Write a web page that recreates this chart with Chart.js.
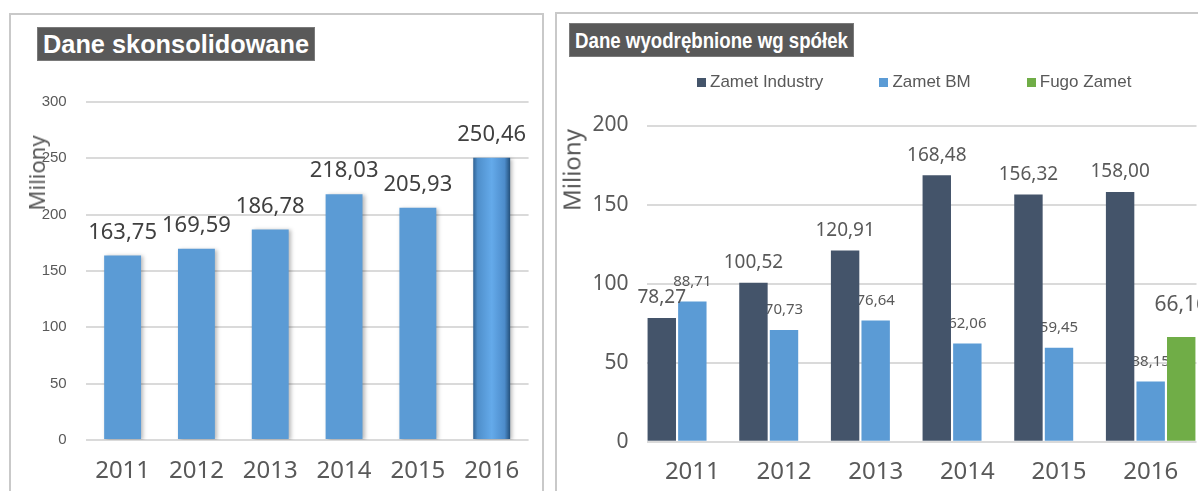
<!DOCTYPE html>
<html><head><meta charset="utf-8">
<script src="https://cdn.jsdelivr.net/npm/chart.js@4/dist/chart.umd.min.js"></script>
<style>
html,body{margin:0;padding:0;background:#fff;width:1198px;height:491px;overflow:hidden;}
body{position:relative;}
.panel{position:absolute;border:2px solid #c9c9c9;border-bottom:none;box-sizing:border-box;background:#fff;}
#p1{left:9px;top:13px;width:535px;height:490px;}
#p2{left:555px;top:12px;width:720px;height:490px;}
canvas{position:absolute;top:0;}
#c1{left:0;}
#c2{left:550px;}
.ttl{position:absolute;background:#595959;color:#fff;font-family:"Liberation Sans",Arial,sans-serif;font-weight:bold;white-space:nowrap;overflow:hidden;box-sizing:border-box;border:1px solid #7a7a7a;}
.ttl span{display:inline-block;transform-origin:0 50%;position:absolute;left:5px;top:0;}
#t1{left:37px;top:27px;width:278px;height:34px;font-size:25px;line-height:33px;}
#t2{left:569px;top:23px;width:285px;height:34px;font-size:22px;line-height:33px;}
.ytitle{position:absolute;font-family:"Noto Sans",sans-serif;color:#595959;transform:translate(-50%,-50%) rotate(-90deg);white-space:nowrap;}
#y1{left:36px;top:173px;font-size:22px;}
#y2{left:571px;top:170px;font-size:24px;}
#legend{position:absolute;left:697px;top:72px;display:flex;gap:56px;font-family:"Liberation Sans",Arial,sans-serif;font-size:17px;color:#595959;white-space:nowrap;}
#legend .it{display:flex;align-items:center;}
#legend .sw{width:9px;height:9px;margin-right:4px;}
</style></head>
<body>
<div class="panel" id="p1"></div>
<div class="panel" id="p2"></div>
<canvas id="c1" width="550" height="491" style="width:550px;height:491px"></canvas>
<canvas id="c2" width="700" height="491" style="width:700px;height:491px"></canvas>
<div class="ttl" id="t1"><span data-w="266">Dane skonsolidowane</span></div>
<div class="ttl" id="t2"><span data-w="273">Dane wyodrębnione wg spółek</span></div>
<div class="ytitle" id="y1">Miliony</div>
<div class="ytitle" id="y2">Miliony</div>
<div id="legend"></div>
<script>
// ---- data ----
const years = ['2011', '2012', '2013', '2014', '2015', '2016'];
const consolidated = [163.75, 169.59, 186.78, 218.03, 205.93, 250.46];
const seriesNames = ['Zamet Industry', 'Zamet BM', 'Fugo Zamet'];
const zametIndustry = [78.27, 100.52, 120.91, 168.48, 156.32, 158.00];
const zametBM = [88.71, 70.73, 76.64, 62.06, 59.45, 38.15];
const fugoZamet = [null, null, null, null, null, 66.16];
const leftTicks = { min: 0, max: 300, step: 50 };
const rightTicks = { min: 0, max: 200, step: 50 };

const colors = ['#44546a', '#5b9bd5', '#70ad47'];
const fmt = v => v.toFixed(2).replace('.', ',');
const GRID = '#dadada';

// fit title widths
document.querySelectorAll('.ttl span').forEach(s => {
  const w = s.getBoundingClientRect().width;
  s.style.transform = 'scaleX(' + (parseFloat(s.dataset.w) / w) + ')';
});

// legend from series
const lg = document.getElementById('legend');
seriesNames.forEach((n, i) => {
  const it = document.createElement('div'); it.className = 'it';
  const sw = document.createElement('div'); sw.className = 'sw'; sw.style.background = colors[i];
  const tx = document.createElement('span'); tx.textContent = n;
  it.appendChild(sw); it.appendChild(tx); lg.appendChild(it);
});

Chart.defaults.animation = false;

// ---- left chart ----
const labelPlugin1 = {
  id: 'lbl1',
  afterDatasetsDraw(chart) {
    const ctx = chart.ctx;
    const meta = chart.getDatasetMeta(0);
    ctx.save();
    ctx.font = '22px "Noto Sans", sans-serif';
    ctx.fillStyle = '#404040';
    ctx.textAlign = 'center';
    ctx.textBaseline = 'middle';
    meta.data.forEach((b, i) => {
      ctx.fillText(fmt(consolidated[i]), b.x, b.y - 23);
    });
    ctx.restore();
  }
};
const shadowPlugin = {
  id: 'shadow',
  beforeDatasetsDraw(chart) {
    const ctx = chart.ctx; ctx.save();
    ctx.shadowColor = 'rgba(0,0,0,0.28)'; ctx.shadowBlur = 4; ctx.shadowOffsetX = 2; ctx.shadowOffsetY = 1;
  },
  afterDatasetsDraw(chart) { chart.ctx.restore(); }
};

new Chart(document.getElementById('c1'), {
  type: 'bar',
  data: {
    labels: years,
    datasets: [{
      data: consolidated,
      backgroundColor: (c) => {
        const chart = c.chart;
        if (c.dataIndex !== years.length - 1 || !chart.chartArea || !chart.scales.x) return '#5b9bd5';
        const xs = chart.scales.x;
        const cx = xs.getPixelForValue(c.dataIndex);
        const w = (chart.chartArea.width / years.length) * 0.5;
        const g = chart.ctx.createLinearGradient(cx - w / 2, 0, cx + w / 2, 0);
        g.addColorStop(0, '#2f6294');
        g.addColorStop(0.12, '#4f8fcb');
        g.addColorStop(0.5, '#64aaea');
        g.addColorStop(0.85, '#4d8ccb');
        g.addColorStop(1, '#24507a');
        return g;
      },
      borderWidth: 0,
      barPercentage: 0.5,
      categoryPercentage: 1
    }]
  },
  options: {
    responsive: false,
    layout: { padding: { left: 0, right: 21.4, top: 101.8, bottom: 0 } },
    plugins: { legend: { display: false }, tooltip: { enabled: false } },
    scales: {
      x: {
        afterFit: s => { s.height = 51; },
        grid: { display: false, drawTicks: false },
        border: { display: false },
        ticks: { padding: 17, color: '#595959', font: { family: 'Noto Sans', size: 24 } }
      },
      y: {
        min: leftTicks.min, max: leftTicks.max,
        afterFit: s => { s.width = 85.7; },
        grid: { color: GRID, lineWidth: 2, drawTicks: false },
        border: { display: false },
        ticks: { stepSize: leftTicks.step, padding: 19, color: '#595959', font: { family: 'Liberation Sans', size: 15 } }
      }
    }
  },
  plugins: [shadowPlugin, labelPlugin1]
});

// ---- right chart ----
const rightLabels = {
  id: 'lbl2',
  beforeDatasetsDraw(chart) {
    const ctx = chart.ctx;
    const meta = chart.getDatasetMeta(1);
    ctx.save();
    ctx.font = '15px "Noto Sans", sans-serif';
    ctx.fillStyle = '#595959';
    ctx.textAlign = 'center'; ctx.textBaseline = 'middle';
    meta.data.forEach((b, i) => { if (zametBM[i] != null) ctx.fillText(fmt(zametBM[i]), b.x, b.y - 20); });
    ctx.restore();
  },
  afterDatasetsDraw(chart) {
    const ctx = chart.ctx;
    ctx.save();
    ctx.fillStyle = '#595959';
    ctx.textAlign = 'center'; ctx.textBaseline = 'middle';
    ctx.font = '19px "Noto Sans", sans-serif';
    chart.getDatasetMeta(0).data.forEach((b, i) => { if (zametIndustry[i] != null) ctx.fillText(fmt(zametIndustry[i]), b.x, b.y - 20); });
    ctx.font = '21px "Noto Sans", sans-serif';
    chart.getDatasetMeta(2).data.forEach((b, i) => { if (fugoZamet[i] != null) ctx.fillText(fmt(fugoZamet[i]), b.x, b.y - 32); });
    ctx.restore();
  }
};

new Chart(document.getElementById('c2'), {
  type: 'bar',
  data: {
    labels: years,
    datasets: [zametIndustry, zametBM, fugoZamet].map((d, i) => ({
      label: seriesNames[i], data: d, backgroundColor: colors[i], borderWidth: 0,
      barPercentage: 0.93, categoryPercentage: 1
    }))
  },
  options: {
    responsive: false,
    layout: { padding: { left: 0, right: 53.5, top: 125.5, bottom: 0 } },
    plugins: { legend: { display: false }, tooltip: { enabled: false } },
    scales: {
      x: {
        afterFit: s => { s.height = 49.3; },
        grid: { display: false, drawTicks: false },
        border: { display: false },
        ticks: { padding: 16, color: '#595959', font: { family: 'Noto Sans', size: 24 } }
      },
      y: {
        min: rightTicks.min, max: rightTicks.max,
        afterFit: s => { s.width = 96.5; },
        grid: { color: GRID, lineWidth: 2, drawTicks: false },
        border: { display: false },
        ticks: { stepSize: rightTicks.step, padding: 18, color: '#595959', font: { family: 'Noto Sans', size: 21 } }
      }
    }
  },
  plugins: [rightLabels]
});
</script>
</body></html>
